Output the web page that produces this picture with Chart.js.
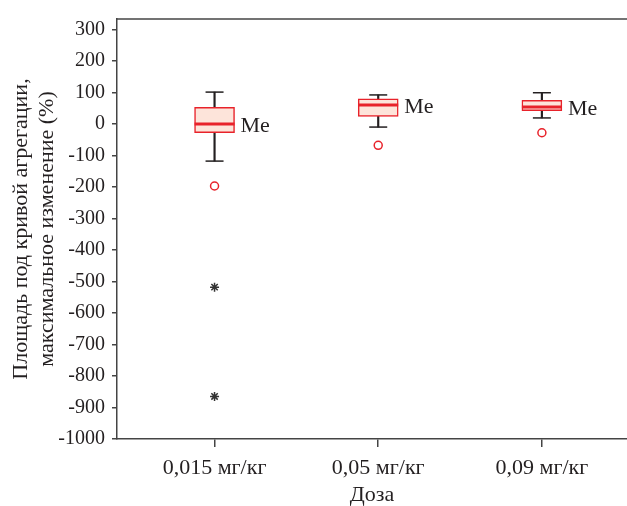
<!DOCTYPE html>
<html>
<head>
<meta charset="utf-8">
<script src="https://cdn.jsdelivr.net/npm/chart.js@4.4.0/dist/chart.umd.min.js"></script>
<style>
  html, body { margin: 0; padding: 0; background: #fff; }
  #wrap { width: 627px; height: 506px; }
</style>
</head>
<body>
<div id="wrap"><canvas id="boxChart"></canvas></div>
<script>
// Данные диаграммы размаха
const doses = [1, 2, 3];
const doseLabels = ['0,015 мг/кг', '0,05 мг/кг', '0,09 мг/кг'];
const whiskerLow = [-118, -10, 19];
const q1 = [-28, 24, 42];
const medians = [0, 60, 54];
const q3 = [53, 80, 75];
const whiskerHigh = [101, 92, 99];
const outliers = [-197, -68, -28];
const extremes = [-518, -865];
const yTicks = [300, 200, 100, 0, -100, -200, -300, -400, -500, -600, -700, -800, -900, -1000];

const inkColor = '#231f20';
const serif = '"Liberation Serif", "DejaVu Serif", serif';

// верхняя рамка и подписи "Me"
const extrasPlugin = {
    id: 'extras',
    afterDatasetsDraw(chart) {
        const { ctx, chartArea, scales: { x, y } } = chart;
        ctx.save();
        ctx.strokeStyle = '#444';
        ctx.lineWidth = 1.5;
        ctx.beginPath();
        ctx.moveTo(chartArea.left, chartArea.top);
        ctx.lineTo(chartArea.right, chartArea.top);
        ctx.stroke();
        ctx.font = '22px ' + serif;
        ctx.fillStyle = inkColor;
        ctx.textBaseline = 'middle';
        doses.forEach((d, i) => {
            ctx.fillText('Me', x.getPixelForValue(d) + 26, y.getPixelForValue(medians[i]) + 2);
        });
        ctx.restore();
    }
};

const ctx = document.getElementById('boxChart').getContext('2d');
const chart = new Chart(ctx, {
    type: 'bar',
    data: {
        datasets: [
            {
                type: 'scatter',
                data: doses.map((d, i) => ({ x: d, y: medians[i] })),
                pointStyle: 'line',
                radius: 20,
                borderColor: '#e8222a',
                borderWidth: 3,
                order: 0
            },
            {
                type: 'scatter',
                data: doses.flatMap((d, i) => [{ x: d, y: whiskerLow[i] }, { x: d, y: whiskerHigh[i] }]),
                pointStyle: 'line',
                radius: 9,
                borderColor: inkColor,
                borderWidth: 1.5,
                order: 3
            },
            {
                type: 'scatter',
                data: doses.map((d, i) => ({ x: d, y: outliers[i] })),
                pointStyle: 'circle',
                radius: 4,
                borderColor: '#e8222a',
                backgroundColor: '#fff',
                borderWidth: 1.5,
                order: 0
            },
            {
                type: 'scatter',
                data: extremes.map(v => ({ x: doses[0], y: v })),
                pointStyle: 'star',
                radius: 4.5,
                borderColor: '#333',
                borderWidth: 1.5,
                order: 0
            },
            {
                type: 'bar',
                data: doses.map((d, i) => ({ x: d, y: [q1[i], q3[i]] })),
                backgroundColor: '#fde4da',
                borderColor: '#e8222a',
                borderWidth: 1.5,
                borderSkipped: false,
                barThickness: 40,
                grouped: false,
                order: 1
            },
            {
                type: 'bar',
                data: doses.map((d, i) => ({ x: d, y: [whiskerLow[i], whiskerHigh[i]] })),
                backgroundColor: inkColor,
                borderWidth: 0,
                barThickness: 1.5,
                grouped: false,
                order: 4
            }
        ]
    },
    options: {
        responsive: true,
        maintainAspectRatio: false,
        animation: false,
        layout: { autoPadding: false, padding: { top: 16, right: 0, left: 9, bottom: 0 } },
        plugins: {
            legend: { display: false },
            tooltip: { enabled: false }
        },
        scales: {
            x: {
                type: 'linear',
                min: 0.404,
                max: 3.52,
                offset: false,
                afterBuildTicks: scale => { scale.ticks = doses.map(v => ({ value: v })); },
                afterFit: scale => { scale.height = 67; },
                ticks: {
                    color: inkColor,
                    font: { family: serif, size: 22, lineHeight: 1.0 },
                    padding: 10,
                    autoSkip: false,
                    maxRotation: 0,
                    callback: v => doseLabels[doses.indexOf(v)]
                },
                grid: { display: true, offset: false, drawOnChartArea: false, tickLength: 8, color: '#444', lineWidth: 1.5 },
                border: { display: true, color: '#444', width: 1.5 },
                title: {
                    display: true,
                    text: 'Доза',
                    color: inkColor,
                    font: { family: serif, size: 22, lineHeight: 1.0 },
                    padding: { top: 0, bottom: 0 }
                }
            },
            y: {
                min: -1000,
                max: 333,
                afterBuildTicks: scale => { scale.ticks = yTicks.map(v => ({ value: v })); },
                afterFit: scale => { scale.width = 108; },
                ticks: {
                    color: inkColor,
                    font: { family: serif, size: 20 },
                    padding: 7,
                    callback: v => String(v)
                },
                grid: { display: true, drawOnChartArea: false, tickLength: 5, color: '#444', lineWidth: 1.5 },
                border: { display: true, color: '#444', width: 1.5 },
                title: {
                    display: true,
                    text: ['Площадь под кривой агрегации,', 'максимальное изменение (%)'],
                    color: inkColor,
                    font: { family: serif, size: 22, lineHeight: 1.15 },
                    padding: { top: 0, bottom: 0 }
                }
            }
        }
    },
    plugins: [extrasPlugin]
});
</script>
</body>
</html>
